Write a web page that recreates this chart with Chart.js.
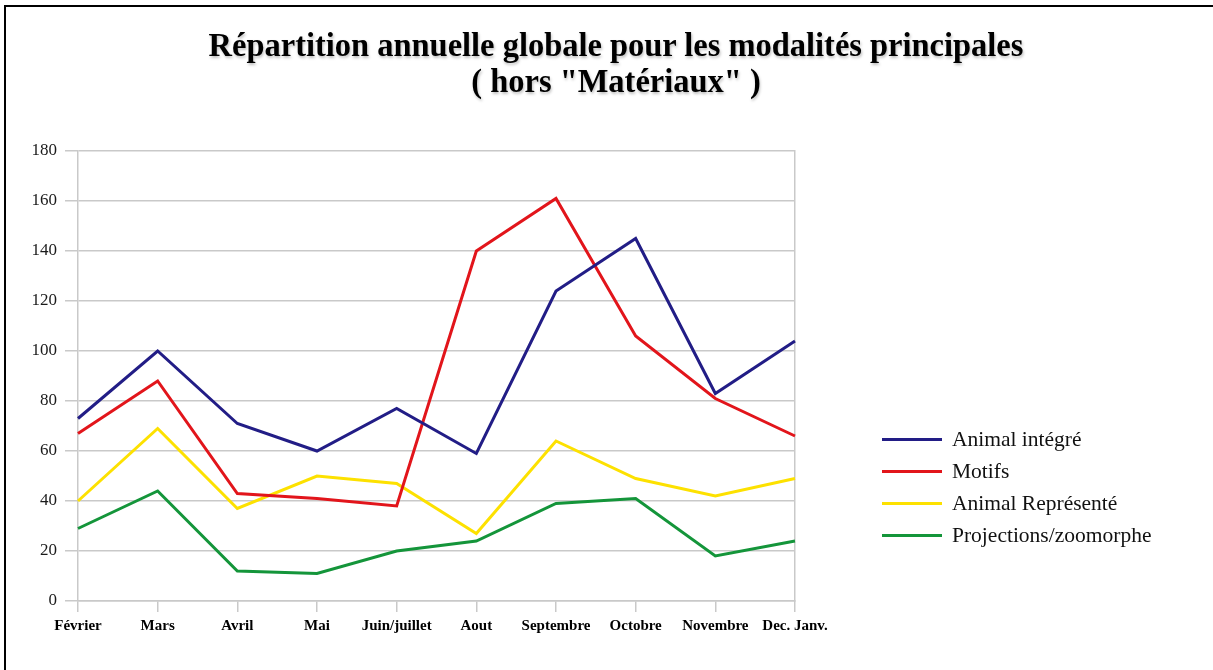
<!DOCTYPE html>
<html lang="fr">
<head>
<meta charset="utf-8">
<title>Répartition annuelle globale</title>
<script src="https://cdn.jsdelivr.net/npm/chart.js@4.4.1/dist/chart.umd.min.js"></script>
<style>
  html, body { margin: 0; padding: 0; background: #fff; }
  #wrap { position: relative; width: 1213px; height: 670px; overflow: hidden; }
  #frame { position: absolute; left: 4px; top: 5px; width: 1215px; height: 680px;
           border-top: 2px solid #000; border-left: 2px solid #000; pointer-events: none; }
  #title { position: absolute; left: 0; width: 1232px; top: 27px; text-align: center;
           font-family: "Liberation Serif", "Times New Roman", serif; font-weight: bold;
           font-size: 34px; line-height: 36px; color: #000;
           transform: scaleX(0.955); transform-origin: 616px 0;
           text-shadow: 1px 2px 3px rgba(0,0,0,0.25); }
  #legend { position: absolute; left: 882px; top: 423px;
            font-family: "Liberation Serif", "Times New Roman", serif; font-size: 21.5px; color: #111; }
  #legend .row { display: flex; align-items: center; height: 32px; }
  #legend .sw { width: 60px; height: 3px; margin-right: 10px; }
  canvas { position: absolute; left: 0; top: 0; }
</style>
</head>
<body>
<div id="wrap">
  <canvas id="chart" width="1213" height="670"></canvas>
  <div id="title">Répartition annuelle globale pour les modalités principales<br>( hors "Matériaux" )</div>
  <div id="legend"></div>
  <div id="frame"></div>
</div>
<script>
  // --- données ---
  const mois = ["Février", "Mars", "Avril", "Mai", "Juin/juillet", "Aout", "Septembre", "Octobre", "Novembre", "Dec. Janv."];

  const animalIntegre = [73, 100, 71, 60, 77, 59, 124, 145, 83, 104];
  const motifs = [67, 88, 43, 41, 38, 140, 161, 106, 81, 66];
  const animalRepresente = [40, 69, 37, 50, 47, 27, 64, 49, 42, 49];
  const projections = [29, 44, 12, 11, 20, 24, 39, 41, 18, 24];

  const yTicks = [0, 20, 40, 60, 80, 100, 120, 140, 160, 180];

  const series = [
    { label: "Animal intégré", data: animalIntegre, color: "#221d86" },
    { label: "Motifs", data: motifs, color: "#e2151b" },
    { label: "Animal Représenté", data: animalRepresente, color: "#fde100" },
    { label: "Projections/zoomorphe", data: projections, color: "#14953a" },
  ];

  const serif = "'Liberation Serif', 'Times New Roman', serif";
  const gridColor = "#c9c9c9";

  const ctx = document.getElementById("chart").getContext("2d");

  new Chart(ctx, {
    type: "line",
    data: {
      labels: mois,
      datasets: series.map((s) => ({
        label: s.label,
        data: s.data,
        borderColor: s.color,
        backgroundColor: s.color,
        borderWidth: 3,
        pointRadius: 0,
        tension: 0,
        fill: false,
      })),
    },
    options: {
      responsive: false,
      animation: false,
      layout: { padding: { top: 151, right: 418, bottom: 0, left: 0 } },
      plugins: {
        legend: { display: false },
        title: { display: false },
        tooltip: { enabled: false },
      },
      scales: {
        x: {
          offset: false,
          grid: { display: true, drawOnChartArea: false, color: gridColor, lineWidth: 1.5, tickLength: 11 },
          border: { display: true, color: gridColor, width: 1.5 },
          ticks: { color: "#000", font: { family: serif, size: 15, weight: "bold" }, padding: 5, maxRotation: 0, autoSkip: false },
          afterFit: (s) => { s.height = 69; },
        },
        y: {
          min: 0,
          max: 180,
          afterBuildTicks: (s) => { s.ticks = yTicks.map((v) => ({ value: v })); },
          grid: { color: gridColor, lineWidth: 1.5, tickLength: 13 },
          border: { display: true, color: gridColor, width: 1.5 },
          ticks: { color: "#1a1a1a", font: { family: serif, size: 17 }, padding: 8 },
          afterFit: (s) => { s.width = 78; },
        },
        yr: {
          position: "right",
          min: 0,
          max: 180,
          grid: { display: false, drawOnChartArea: false },
          border: { display: true, color: gridColor, width: 1.5 },
          ticks: { display: false },
          afterFit: (s) => { s.width = 0; },
        },
      },
    },
  });

  // légende HTML à droite
  const legendEl = document.getElementById("legend");
  series.forEach((s) => {
    const row = document.createElement("div");
    row.className = "row";
    const sw = document.createElement("span");
    sw.className = "sw";
    sw.style.background = s.color;
    const txt = document.createElement("span");
    txt.textContent = s.label;
    row.appendChild(sw);
    row.appendChild(txt);
    legendEl.appendChild(row);
  });
</script>
</body>
</html>
